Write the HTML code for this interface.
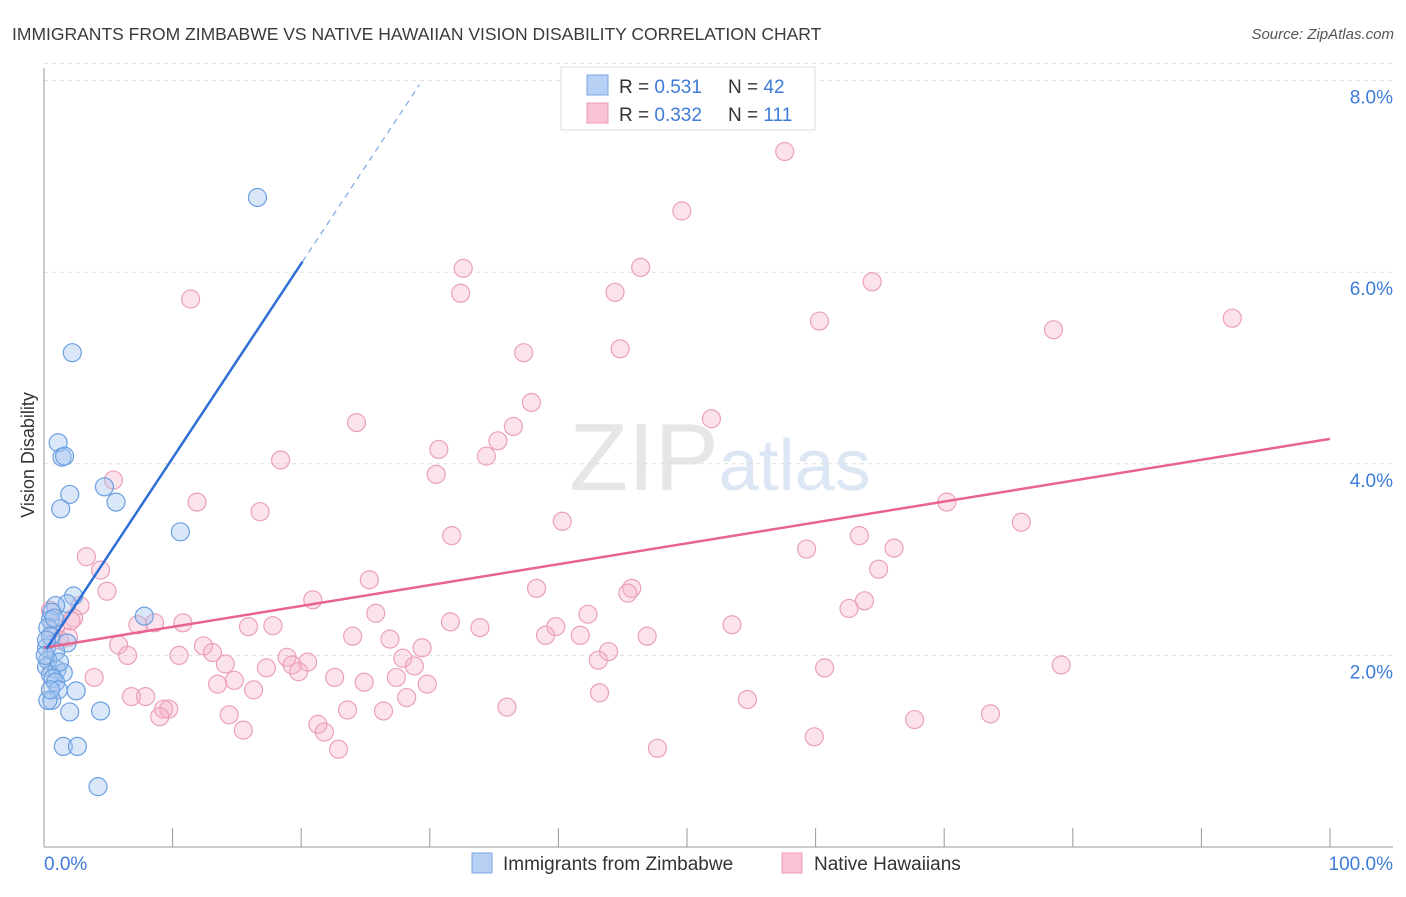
<!DOCTYPE html>
<html><head><meta charset="utf-8"><style>
body{margin:0;background:#fff;font-family:"Liberation Sans",sans-serif}
svg text{font-family:"Liberation Sans",sans-serif}
</style></head><body>
<svg id="chart" width="1406" height="892" xmlns="http://www.w3.org/2000/svg">
<text x="12" y="40" font-size="17.5" fill="#3a3a3a">IMMIGRANTS FROM ZIMBABWE VS NATIVE HAWAIIAN VISION DISABILITY CORRELATION CHART</text>
<text x="1394" y="39" font-size="15" font-style="italic" fill="#555" text-anchor="end">Source: ZipAtlas.com</text>
<text x="720" y="490" font-size="96" text-anchor="middle" fill="#e6e6e6" font-family="Liberation Serif">ZIP<tspan fill="#dce6f4" font-family="Liberation Sans" font-size="72">atlas</tspan></text>
<text transform="translate(34,455) rotate(-90)" font-size="18" fill="#333" text-anchor="middle">Vision Disability</text>
<g id="grid"></g>
<g id="axes"></g>
<g id="marks"></g>
<g>
<rect x="561" y="67" width="254" height="63" fill="#fff" stroke="#ddd"/>
<rect x="587" y="75" width="21" height="20" fill="#b8d0f4" stroke="#7aa6e4"/>
<rect x="587" y="103" width="21" height="20" fill="#fac4d4" stroke="#ee9ab6"/>
<text x="619" y="93" font-size="19" fill="#333">R = <tspan fill="#3d7bd9">0.531</tspan><tspan x="728">N = </tspan><tspan fill="#3d7bd9">42</tspan></text>
<text x="619" y="121" font-size="19" fill="#333">R = <tspan fill="#3d7bd9">0.332</tspan><tspan x="728">N = </tspan><tspan fill="#3d7bd9">111</tspan></text>
</g>
<g>
<rect x="472" y="853" width="20" height="20" fill="#b8d0f4" stroke="#7aa6e4"/>
<text x="503" y="870" font-size="19" fill="#333">Immigrants from Zimbabwe</text>
<rect x="782" y="853" width="20" height="20" fill="#fac4d4" stroke="#ee9ab6"/>
<text x="814" y="870" font-size="19" fill="#333">Native Hawaiians</text>
</g>
</svg>
<script>
const yTicks=[2,4,6,8];
const yTickLabels=["2.0%","4.0%","6.0%","8.0%"];
const xTickLabels=["0.0%","100.0%"];
const blueX=[16.6,2.2,1.1,1.4,1.6,2.0,1.3,4.7,5.6,10.6,2.3,7.8,1.8,0.9,0.6,0.5,0.3,0.5,1.8,0.2,0.9,0.3,0.2,1.0,1.5,0.5,0.7,0.9,1.1,2.5,0.6,2.0,4.4,1.5,2.6,4.2,0.3,0.2,0.8,0.1,1.2,0.5];
const blueY=[6.78,5.16,4.22,4.07,4.08,3.68,3.53,3.76,3.60,3.29,2.62,2.41,2.54,2.52,2.45,2.37,2.29,2.20,2.13,2.08,2.04,1.95,1.88,1.85,1.82,1.80,1.76,1.72,1.64,1.63,1.53,1.41,1.42,1.05,1.05,0.63,1.53,2.16,2.39,2.00,1.93,1.64];
const pinkX=[57.6,49.6,32.6,46.4,64.4,32.4,44.4,11.4,60.3,92.4,78.5,37.3,44.8,37.9,51.9,24.3,36.5,35.3,30.7,34.4,18.4,5.4,30.5,11.9,70.2,16.8,40.3,76.0,31.7,3.3,59.3,63.4,66.1,4.4,64.9,25.3,38.3,4.9,45.7,45.4,20.9,2.8,63.8,62.6,25.8,42.3,2.3,7.3,8.6,10.8,15.9,17.8,31.6,33.9,53.5,39.8,24.0,26.9,39.0,41.7,46.9,5.8,1.9,12.4,13.1,6.5,29.4,10.5,18.9,20.5,27.9,43.9,43.1,14.1,17.3,19.3,28.8,79.1,60.7,19.8,3.9,22.6,14.8,24.9,27.4,13.5,16.3,29.8,6.8,7.9,28.2,43.2,54.7,9.3,9.7,9.0,14.4,23.6,26.4,36.0,73.6,67.7,21.3,15.5,21.8,59.9,22.9,47.7,0.9,1.2,0.5,2.1];
const pinkY=[7.26,6.64,6.04,6.05,5.90,5.78,5.79,5.72,5.49,5.52,5.40,5.16,5.20,4.64,4.47,4.43,4.39,4.24,4.15,4.08,4.04,3.83,3.89,3.60,3.60,3.50,3.40,3.39,3.25,3.03,3.11,3.25,3.12,2.89,2.90,2.79,2.70,2.67,2.70,2.65,2.58,2.52,2.57,2.49,2.44,2.43,2.39,2.32,2.34,2.34,2.30,2.31,2.35,2.29,2.32,2.30,2.20,2.17,2.21,2.21,2.20,2.11,2.19,2.10,2.03,2.00,2.08,2.00,1.98,1.93,1.97,2.04,1.95,1.91,1.87,1.90,1.89,1.90,1.87,1.83,1.77,1.77,1.74,1.72,1.77,1.70,1.64,1.70,1.57,1.57,1.56,1.61,1.54,1.44,1.44,1.36,1.38,1.43,1.42,1.46,1.39,1.33,1.28,1.22,1.20,1.15,1.02,1.03,2.29,2.16,2.47,2.36];
const blueTrend=[2.03,0.203]; // intercept, slope
const pinkTrend=[2.08,0.0218];
const NS="http://www.w3.org/2000/svg";
const X=v=>44+v*12.86, Y=v=>847-v*95.8;
function mk(tag,attrs,parent){const e=document.createElementNS(NS,tag);for(const k in attrs)e.setAttribute(k,attrs[k]);document.getElementById(parent).appendChild(e);return e;}
yTicks.forEach((t,i)=>{
 const g=mk('line',{x1:44,x2:1393,y1:Y(t),y2:Y(t),stroke:'#ddd','stroke-dasharray':'4,4'},'grid');
 
 
 const l=mk('text',{x:1393,y:Y(t)+23,'font-size':19,fill:'#3d7bd9','text-anchor':'end'},'axes');
 l.textContent=yTickLabels[i];
 
 
});
const tg=mk('line',{x1:44,x2:1393,y1:Y(8.18),y2:Y(8.18),stroke:'#ddd','stroke-dasharray':'4,4'},'grid');


let a=mk('line',{x1:44,x2:44,y1:68,y2:847,stroke:'#999'},'axes');


a=mk('line',{x1:44,x2:1393,y1:847,y2:847,stroke:'#999'},'axes');


for(let i=1;i<=10;i++){const t=mk('line',{x1:X(i*10),x2:X(i*10),y1:828,y2:847,stroke:'#999'},'axes');
 
 }
let xl=mk('text',{x:44,y:870,'font-size':19,fill:'#3d7bd9'},'axes');xl.textContent=xTickLabels[0];


xl=mk('text',{x:1393,y:870,'font-size':19,fill:'#3d7bd9','text-anchor':'end'},'axes');xl.textContent=xTickLabels[1];


pinkX.forEach((x,i)=>{const c=mk('circle',{cx:X(x),cy:Y(pinkY[i]),r:9,fill:'rgba(246,176,198,0.35)',stroke:'#eba0ba','stroke-width':1.2},'marks');
 
 });
blueX.forEach((x,i)=>{const c=mk('circle',{cx:X(x),cy:Y(blueY[i]),r:9,fill:'rgba(160,196,240,0.4)',stroke:'#6c9fe2','stroke-width':1.2},'marks');
 
 });
let tl=mk('line',{x1:X(0),y1:Y(pinkTrend[0]),x2:X(100),y2:Y(pinkTrend[0]+pinkTrend[1]*100),stroke:'#e8638e','stroke-width':2.5},'marks');


tl=mk('line',{x1:X(0.2),y1:Y(blueTrend[0]+blueTrend[1]*0.2),x2:X(20.1),y2:Y(blueTrend[0]+blueTrend[1]*20.1),stroke:'#2e6fd6','stroke-width':2.5},'marks');


tl=mk('line',{x1:X(20.1),y1:Y(blueTrend[0]+blueTrend[1]*20.1),x2:X(29.2),y2:Y(blueTrend[0]+blueTrend[1]*29.2),stroke:'#7aa6e4','stroke-width':1.2,'stroke-dasharray':'6,5'},'marks');


</script>
</body></html>
